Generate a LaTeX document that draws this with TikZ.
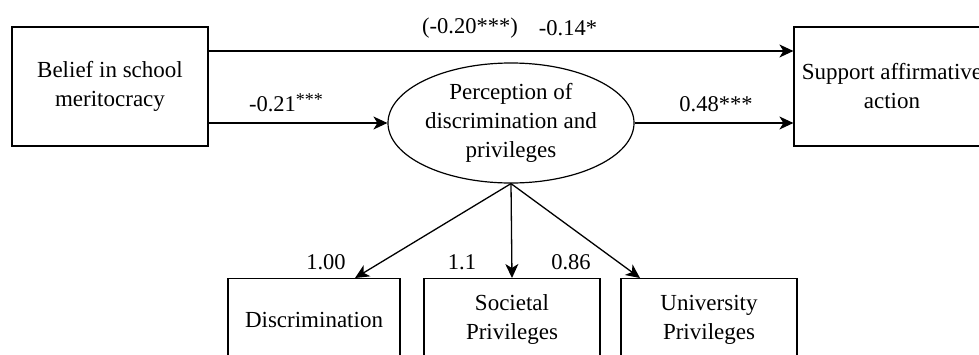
\documentclass[tikz,border=0pt]{standalone}
\usepackage{fontspec}
\setmainfont{Liberation Serif}
\usetikzlibrary{arrows.meta,shapes.geometric}
\tikzset{
  varbox/.style={draw, line width=1.2pt, rectangle, align=center, inner sep=0pt},
  latent/.style={draw, line width=1.2pt, ellipse, align=center, inner sep=0pt, minimum width=246pt, minimum height=120pt},
  path/.style={line width=1.3pt, -{Stealth[length=14pt,width=13pt,inset=4pt]}},
  coef/.style={inner sep=0pt, font=\fontsize{22.5}{26}\selectfont},
}
\begin{document}
\begin{tikzpicture}[x=1pt,y=-1pt,font=\fontsize{23}{29}\selectfont]
\useasboundingbox (0,0) rectangle (979,354);
\clip (0,0) rectangle (979,354);
% main nodes
\node[varbox, minimum width=196pt, minimum height=119pt] (belief) at (110,86.5) {Belief in school\\meritocracy};
\node[varbox, minimum width=196pt, minimum height=119pt] (support) at (892,86.5) {Support affirmative\\action};
\node[latent] (perc) at (511,123) {Perception of\\discrimination and\\privileges};
% indicators
\node[varbox, minimum width=172pt, minimum height=82pt, anchor=north] (disc) at (314,278) {Discrimination};
\node[varbox, minimum width=176pt, minimum height=82pt, anchor=north] (soc) at (512,278) {Societal\\Privileges};
\node[varbox, minimum width=176pt, minimum height=82pt, anchor=north] (uni) at (709,278) {University\\Privileges};
% connector end points
\coordinate (b1) at (belief.east |- 0,51);
\coordinate (s1) at (support.west |- 0,51);
\coordinate (b2) at (belief.east |- 0,123);
\coordinate (s2) at (support.west |- 0,123);
\coordinate (dt) at (355,278);
\coordinate (ut) at (640,278);
% paths
\draw[path] (b1) -- (s1);
\draw[path] (b2) -- (perc.west);
\draw[path] (perc.east) -- (s2);
\draw[path] (perc.south) -- (dt);
\draw[path] (perc.south) -- (soc.north);
\draw[path] (perc.south) -- (ut);
% coefficients
\node[coef] (c1) at (470,28) {(-0.20***)};
\node[coef] (c2) at (568,28) {-0.14*};
\node[coef] (c3) at (286,103) {-0.21\raisebox{6pt}{\fontsize{18}{18}\selectfont ***}};
\node[coef] (c4) at (716,104) {0.48***};
\node[coef] (c5) at (326,262) {1.00};
\node[coef] (c6) at (462,262) {1.1};
\node[coef] (c7) at (571,262) {0.86};
\end{tikzpicture}
\end{document}
